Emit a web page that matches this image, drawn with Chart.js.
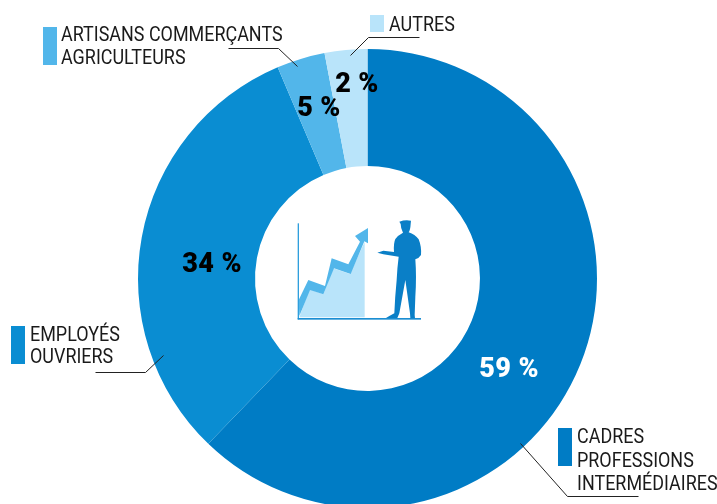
<!DOCTYPE html>
<html lang="fr">
<head>
<meta charset="utf-8">
<script src="https://cdn.jsdelivr.net/npm/chart.js@4/dist/chart.umd.min.js"></script>
<style>
html,body{margin:0;padding:0;background:#fff;width:717px;height:504px;overflow:hidden}
#wrap{position:relative;width:717px;height:504px;overflow:hidden}
canvas{position:absolute;left:0;top:0}
svg{position:absolute;left:280px;top:200px}
</style>
</head>
<body>
<div id="wrap">
<canvas id="c" width="717" height="520"></canvas>
<svg width="160" height="130" viewBox="0 0 480 390" aria-hidden="true">
<polygon points="58,352 88,268 130,283 160,205 210,222 254,125 254,352" fill="#b9e4fa"/>
<polygon points="56,300 85,240 135,258 155,175 205,193 240,125 225,108 264,84 264,130 253,124 212,222 162,205 130,283 90,270 58,348" fill="#52b6ea"/>
<rect x="53" y="70" width="4" height="288" fill="#2f9fdd"/>
<rect x="53" y="354" width="370" height="5" fill="#1b8ed2"/>
<path fill="#0a7fc7" d="M358 65 Q376 58 393 62 L392 72 Q391 90 386 97 Q405 103 416 118 Q425 140 423 165 Q416 176 406 178 Q410 230 406 290 L404 345 L405 355 L391 355 L390 340 L376 240 L358 340 L352 354 L318 354 Q330 347 343 340 Q345 290 350 240 Q352 200 356 170 L310 163 L292 158 L310 152 L342 156 Q340 130 346 117 Q355 105 369 98 Q362 85 362 72 Z"/>
</svg>
</div>
<script>
const categories = ["CADRES PROFESSIONS INTERMÉDIAIRES", "EMPLOYÉS OUVRIERS", "ARTISANS COMMERÇANTS AGRICULTEURS", "AUTRES"];
const percentLabels = ["59 %", "34 %", "5 %", "2 %"];
const drawnShares = [62.2, 31.4, 3.4, 3.0];
const sliceColors = ["#007cc5", "#0a8dd2", "#52b6ea", "#b9e4fa"];
const percentColors = ["#ffffff", "#000000", "#000000", "#000000"];
const percentPositions = [[509, 370], [212, 265], [319, 109], [357, 85]];
const legendLines = [["CADRES", "PROFESSIONS", "INTERMÉDIAIRES"], ["EMPLOYÉS", "OUVRIERS"], ["ARTISANS COMMERÇANTS", "AGRICULTEURS"], ["AUTRES"]];
const legendText = [[577, 443, 23.5], [30, 341, 22], [61, 41, 23], [389, 31, 23]];
const swatches = [[558, 428, 14, 38], [11, 326, 14, 38], [43, 27, 14, 38], [370, 15, 14, 17]];
const leaders = [
  [[520, 443], [567, 496], [638, 496]],
  [[163, 355], [145, 372], [95, 372]],
  [[297, 66], [278, 48], [228, 48]],
  [[350, 55], [368, 37], [419, 37]]
];
const annotations = {
  id: "annotations",
  afterDraw(chart) {
    const ctx = chart.ctx;
    ctx.save();
    ctx.lineWidth = 1;
    ctx.strokeStyle = "#222222";
    leaders.forEach(l => {
      ctx.beginPath();
      l.forEach((p, i) => i ? ctx.lineTo(p[0] + .5, p[1] + .5) : ctx.moveTo(p[0] + .5, p[1] + .5));
      ctx.stroke();
    });
    swatches.forEach((s, i) => {
      ctx.fillStyle = sliceColors[i];
      ctx.fillRect(s[0], s[1], s[2], s[3]);
    });
    ctx.fillStyle = "#1a1a1a";
    ctx.font = '19.5px Roboto';
    ctx.textAlign = "left";
    ctx.textBaseline = "alphabetic";
    legendLines.forEach((lines, i) => {
      const t = legendText[i];
      lines.forEach((line, j) => {
        ctx.save();
        ctx.translate(t[0], t[1] + j * t[2]);
        ctx.scale(0.92, 1);
        ctx.fillText(line, 0, 0);
        ctx.restore();
      });
    });
    ctx.font = '900 27px Roboto';
    ctx.letterSpacing = "0.4px";
    ctx.textAlign = "center";
    ctx.textBaseline = "middle";
    percentLabels.forEach((label, i) => {
      ctx.fillStyle = percentColors[i];
      ctx.fillText(label, percentPositions[i][0], percentPositions[i][1]);
    });
    ctx.restore();
  }
};
new Chart(document.getElementById("c"), {
  type: "doughnut",
  data: {
    labels: categories,
    datasets: [{ data: drawnShares, backgroundColor: sliceColors, borderWidth: 0 }]
  },
  options: {
    responsive: false,
    animation: false,
    cutout: "49%",
    layout: { padding: { left: 138, right: 120, top: 49, bottom: 12 } },
    plugins: { legend: { display: false }, tooltip: { enabled: false } }
  },
  plugins: [annotations]
});
</script>
</body>
</html>
